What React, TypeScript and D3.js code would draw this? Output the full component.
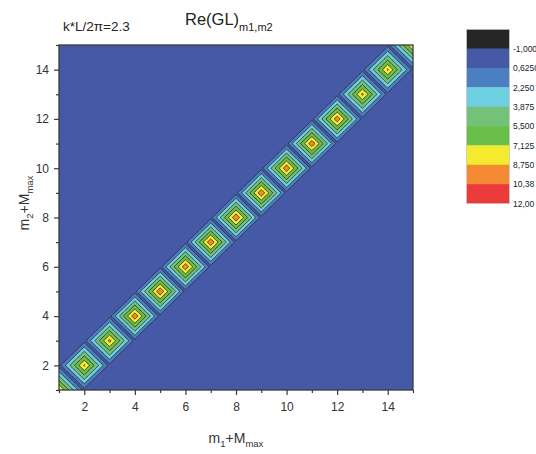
import { useEffect, useRef } from 'react';
import * as d3 from 'd3';

// diagonal elements of Re(GL)_{m1,m2}; everything off the diagonal is ~0
const diagIndex = [1, 2, 3, 4, 5, 6, 7, 8, 9, 10, 11, 12, 13, 14, 15];
const diagValues = [9.0, 9.0, 9.3, 10.0, 10.2, 10.0, 10.1, 10.2, 10.1, 10.1, 10.0, 9.9, 9.1, 9.0, 9.0];

const levels = [-1, 0.625, 2.25, 3.875, 5.5, 7.125, 8.75, 10.375, 12];
const levelLabels = ['-1,000', '0,6250', '2,250', '3,875', '5,500', '7,125', '8,750', '10,38', '12,00'];
const bandColors = ['#262626', '#4659a7', '#4a7fc1', '#6ecfe0', '#74c279', '#6abf4a', '#f5ea2e', '#f48a34', '#ec3a3a'];

const xTicks = [2, 4, 6, 8, 10, 12, 14];
const yTicks = [2, 4, 6, 8, 10, 12, 14];
const minorTicks = [1, 3, 5, 7, 9, 11, 13, 15];

const FONT = '"Liberation Sans", Arial, sans-serif';

const App = () => {
  const svgRef = useRef<SVGSVGElement>(null);

  useEffect(() => {
    if (!svgRef.current) return;
    const svg = d3.select(svgRef.current);
    svg.selectAll('*').remove();

    const x = d3.scaleLinear().domain([1, 15]).range([59, 413]);
    const y = d3.scaleLinear().domain([1, 15]).range([390, 45]);

    // sample the matrix on a fine grid (tent interpolation around each diagonal element)
    const res = 20;
    const n = 14 * res + 1;
    const values = new Array(n * n);
    for (let j = 0; j < n; j++) {
      const gy = 1 + j / res;
      for (let i = 0; i < n; i++) {
        const gx = 1 + i / res;
        let z = 0;
        diagIndex.forEach((m, k) => {
          const d = Math.abs(gx - m) + Math.abs(gy - m);
          if (d < 1) z = Math.max(z, diagValues[k] * (1 - d));
        });
        values[j * n + i] = z;
      }
    }

    const thresholds = levels.slice(1, 8);
    const contours = d3.contours().size([n, n]).thresholds(thresholds)(values);

    const proj = d3.geoTransform({
      point(px: number, py: number) {
        (this as any).stream.point(x(1 + (px - 0.5) / res), y(1 + (py - 0.5) / res));
      },
    });
    const path = d3.geoPath(proj);

    svg.append('defs').append('clipPath').attr('id', 'plot-clip')
      .append('rect')
      .attr('x', x(1)).attr('y', y(15))
      .attr('width', x(15) - x(1)).attr('height', y(1) - y(15));

    const plot = svg.append('g').attr('clip-path', 'url(#plot-clip)');

    plot.append('rect')
      .attr('x', x(1)).attr('y', y(15))
      .attr('width', x(15) - x(1)).attr('height', y(1) - y(15))
      .attr('fill', bandColors[1]);

    plot.selectAll('.band')
      .data(contours)
      .enter()
      .append('path')
      .attr('class', 'band')
      .attr('d', d => path(d as any))
      .attr('fill', (d, i) => bandColors[i + 2]);

    plot.selectAll('.line')
      .data(contours)
      .enter()
      .append('path')
      .attr('class', 'line')
      .attr('d', d => path(d as any))
      .attr('fill', 'none')
      .attr('stroke', '#2b2b2b')
      .attr('stroke-width', 0.85);

    // frame
    svg.append('rect')
      .attr('x', x(1)).attr('y', y(15))
      .attr('width', x(15) - x(1)).attr('height', y(1) - y(15))
      .attr('fill', 'none')
      .attr('stroke', '#3a3a3a')
      .attr('stroke-width', 1.3);

    // axes
    const styleAxis = (g: any) => {
      g.select('.domain').remove();
      g.selectAll('line').attr('stroke', '#3a3a3a').attr('stroke-width', 1.2);
      g.selectAll('text')
        .style('font-family', FONT)
        .style('font-size', '12px')
        .attr('fill', '#333');
    };

    svg.append('g')
      .attr('transform', `translate(0,${y(1)})`)
      .call(d3.axisBottom(x).tickValues(xTicks).tickSize(5).tickPadding(7).tickSizeOuter(0))
      .call(styleAxis);
    svg.append('g')
      .attr('transform', `translate(0,${y(1)})`)
      .call(d3.axisBottom(x).tickValues(minorTicks).tickSize(3).tickFormat(() => '').tickSizeOuter(0))
      .call(styleAxis);

    svg.append('g')
      .attr('transform', `translate(${x(1)},0)`)
      .call(d3.axisLeft(y).tickValues(yTicks).tickSize(5).tickPadding(5).tickSizeOuter(0))
      .call(styleAxis);
    svg.append('g')
      .attr('transform', `translate(${x(1)},0)`)
      .call(d3.axisLeft(y).tickValues(minorTicks).tickSize(3).tickFormat(() => '').tickSizeOuter(0))
      .call(styleAxis);

    // axis titles
    const xt = svg.append('text')
      .attr('x', 236).attr('y', 443)
      .attr('text-anchor', 'middle')
      .style('font-family', FONT).style('font-size', '14px')
      .attr('fill', '#333');
    xt.append('tspan').text('m');
    xt.append('tspan').attr('dy', 4).style('font-size', '9.5px').text('1');
    xt.append('tspan').attr('dy', -4).text('+M');
    xt.append('tspan').attr('dy', 4).style('font-size', '9.5px').text('max');

    const yt = svg.append('text')
      .attr('transform', 'translate(29,203) rotate(-90)')
      .attr('text-anchor', 'middle')
      .style('font-family', FONT).style('font-size', '14px')
      .attr('fill', '#333');
    yt.append('tspan').text('m');
    yt.append('tspan').attr('dy', 4).style('font-size', '9.5px').text('2');
    yt.append('tspan').attr('dy', -4).text('+M');
    yt.append('tspan').attr('dy', 4).style('font-size', '9.5px').text('max');

    // titles
    svg.append('text')
      .attr('x', 63).attr('y', 31)
      .style('font-family', FONT).style('font-size', '13.5px')
      .attr('fill', '#222')
      .text('k*L/2\u03c0=2.3');

    const tt = svg.append('text')
      .attr('x', 185).attr('y', 25)
      .style('font-family', FONT).style('font-size', '16.5px')
      .attr('fill', '#222');
    tt.append('tspan').text('Re(GL)');
    tt.append('tspan').attr('dy', 6).style('font-size', '11px').text('m1,m2');

    // legend
    const lgTop = 29.3;
    const bandH = 19.35;
    const legend = svg.append('g');
    legend.selectAll('.lg')
      .data(bandColors)
      .enter()
      .append('rect')
      .attr('x', 466.5)
      .attr('y', (d, i) => lgTop + i * bandH)
      .attr('width', 43)
      .attr('height', bandH + 0.3)
      .attr('fill', d => d);
    legend.append('rect')
      .attr('x', 466.5).attr('y', lgTop)
      .attr('width', 43).attr('height', bandH * bandColors.length)
      .attr('fill', 'none')
      .attr('stroke', '#c8c8c8')
      .attr('stroke-width', 0.8);
    legend.selectAll('.lgt')
      .data(levelLabels)
      .enter()
      .append('text')
      .attr('x', 513)
      .attr('y', (d, i) => lgTop + (i + 1) * bandH + 1)
      .attr('dominant-baseline', 'middle')
      .style('font-family', FONT)
      .style('font-size', '8.5px')
      .attr('fill', '#222')
      .text(d => d);
  }, []);

  return (
    <svg
      ref={svgRef}
      width={536}
      height={454}
      style={{ position: 'absolute', left: 0, top: 0, background: '#fff' }}
    />
  );
};

export default App;
